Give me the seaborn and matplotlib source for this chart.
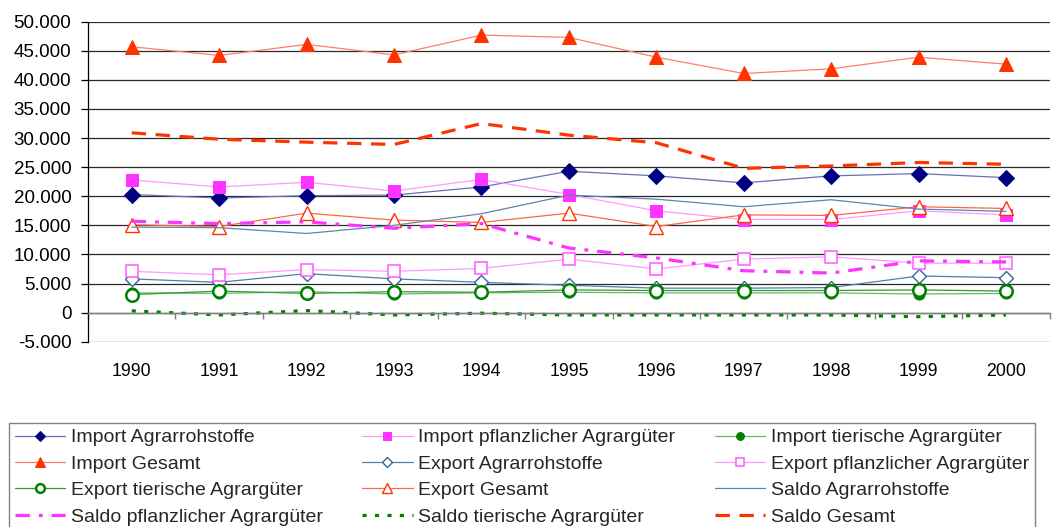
import matplotlib
matplotlib.use("Agg")
import matplotlib.pyplot as plt
import seaborn as sns
import pandas as pd
from matplotlib.ticker import FuncFormatter, FixedLocator

years = [1990, 1991, 1992, 1993, 1994, 1995, 1996, 1997, 1998, 1999, 2000]
import_agrarrohstoffe = [20300, 19700, 20100, 20200, 21600, 24300, 23500, 22300, 23500, 23900, 23200]
import_pflanzlich = [22800, 21600, 22400, 20900, 22900, 20300, 17500, 16000, 16000, 17500, 16800]
import_tierisch = [3400, 3300, 3600, 3200, 3400, 3500, 3400, 3400, 3400, 3200, 3300]
import_gesamt = [45700, 44200, 46100, 44300, 47700, 47300, 43900, 41100, 41900, 43900, 42700]
export_agrarrohstoffe = [5800, 5200, 6700, 5800, 5200, 4700, 4200, 4200, 4300, 6300, 6000]
export_pflanzlich = [7100, 6500, 7400, 7100, 7600, 9200, 7500, 9200, 9600, 8500, 8500]
export_tierisch = [3100, 3700, 3300, 3600, 3500, 3900, 3800, 3800, 3800, 3900, 3700]
export_gesamt = [15100, 14800, 17100, 15900, 15500, 17100, 14800, 16800, 16700, 18200, 17900]
saldo_agrarrohstoffe = [14700, 14600, 13600, 15000, 17000, 20200, 19500, 18200, 19400, 17800, 17400]
saldo_pflanzlich = [15700, 15300, 15600, 14500, 15300, 11100, 9400, 7200, 6800, 8900, 8700]
saldo_tierisch = [300, -400, 350, -400, -100, -400, -400, -400, -400, -700, -400]
saldo_gesamt = [30900, 29800, 29300, 28900, 32500, 30500, 29200, 24800, 25200, 25800, 25500]

series_names = [
    "Import Agrarrohstoffe", "Import pflanzlicher Agrargüter", "Import tierische Agrargüter",
    "Import Gesamt", "Export Agrarrohstoffe", "Export pflanzlicher Agrargüter",
    "Export tierische Agrargüter", "Export Gesamt", "Saldo Agrarrohstoffe",
    "Saldo pflanzlicher Agrargüter", "Saldo tierische Agrargüter", "Saldo Gesamt",
]
series_values = [
    import_agrarrohstoffe, import_pflanzlich, import_tierisch, import_gesamt,
    export_agrarrohstoffe, export_pflanzlich, export_tierisch, export_gesamt,
    saldo_agrarrohstoffe, saldo_pflanzlich, saldo_tierisch, saldo_gesamt,
]

styles = [
    dict(color="#6670B8", lw=0.9, marker="D", ms=8, mfc="#000080", mec="#000080"),
    dict(color="#FF99FF", lw=0.9, marker="s", ms=8.5, mfc="#FF33FF", mec="#FF33FF"),
    dict(color="#66BB66", lw=0.9, marker="o", ms=8, mfc="#008000", mec="#008000"),
    dict(color="#FF7F66", lw=0.9, marker="^", ms=9.5, mfc="#FF3300", mec="#FF3300"),
    dict(color="#5080A8", lw=0.9, marker="D", ms=7.5, mfc="white", mec="#336699", mew=1.0),
    dict(color="#FF99FF", lw=0.9, marker="s", ms=8, mfc="white", mec="#FF66FF", mew=1.2),
    dict(color="#339933", lw=0.9, marker="o", ms=9, mfc="white", mec="#008000", mew=1.8),
    dict(color="#FF6644", lw=0.9, marker="^", ms=10, mfc="white", mec="#FF3300", mew=1.0),
    dict(color="#5B86AD", lw=0.9),
    dict(color="#FF33FF", lw=2.3, dashes=(4.5, 2.8, 1.2, 2.8)),
    dict(color="#008000", lw=2.3, dashes=(1.3, 2.6)),
    dict(color="#FF3300", lw=2.3, dashes=(4.5, 3.0)),
]

sns.set_theme(style="white")
plt.rcParams["font.family"] = ["Liberation Sans", "DejaVu Sans"]

fig = plt.figure(figsize=(10.54, 5.27), dpi=100)
ax = fig.add_axes([0.0835, 0.3516, 0.9125, 0.6072])

xpos = list(range(len(years)))
for name, vals, st in zip(series_names, series_values, styles):
    df = pd.DataFrame({"x": xpos, "y": vals})
    sns.lineplot(data=df, x="x", y="y", ax=ax, label=name, **st)
handles, labels = ax.get_legend_handles_labels()
ax.get_legend().remove()

ax.set_xlim(-0.5, len(years) - 0.5)
ax.set_ylim(-5000, 50000)
ax.set_xlabel("")
ax.set_ylabel("")

ax.yaxis.set_major_locator(FixedLocator(list(range(-5000, 50001, 5000))))
ax.yaxis.grid(True, color="#2a2a2a", lw=0.9)
ax.xaxis.grid(False)
ax.set_axisbelow(True)
ax.yaxis.set_major_formatter(FuncFormatter(lambda v, p: f"{int(v):,}".replace(",", ".")))
ax.tick_params(axis="y", length=5, width=0.9, color="black", pad=7, labelsize=13.5, left=True,
               labelcolor="black")

for s in ["top", "right"]:
    ax.spines[s].set_visible(False)
ax.spines["left"].set_color("black")
ax.spines["left"].set_linewidth(0.9)
ax.spines["bottom"].set_position(("data", 0))
ax.spines["bottom"].set_color("#808080")
ax.spines["bottom"].set_linewidth(1.0)

ax.xaxis.set_major_locator(FixedLocator([i - 0.5 for i in range(len(years) + 1)]))
ax.tick_params(axis="x", length=4.5, width=1.0, color="#808080", direction="out", bottom=True,
               labelbottom=False)

sec = ax.secondary_xaxis(0)
sec.set_xticks(xpos)
sec.set_xticklabels([str(y) for y in years])
sec.tick_params(length=0, pad=15, labelsize=12.8, labelcolor="black")
sec.spines["bottom"].set_visible(False)

order = [0, 3, 6, 9, 1, 4, 7, 10, 2, 5, 8, 11]
leg = fig.legend([handles[i] for i in order], [labels[i] for i in order], ncol=3,
                 loc="upper left", bbox_to_anchor=(9 / 1054, 1 - 423 / 527),
                 frameon=True, fancybox=False, edgecolor="#666666", fontsize=14,
                 handlelength=2.6, handletextpad=0.3, labelspacing=0.45, borderpad=0.3,
                 borderaxespad=0.0, columnspacing=2.0, markerscale=0.7)
leg.get_frame().set_linewidth(1.0)
leg.get_frame().set_facecolor("white")

fig.savefig("out.png", dpi=100)
